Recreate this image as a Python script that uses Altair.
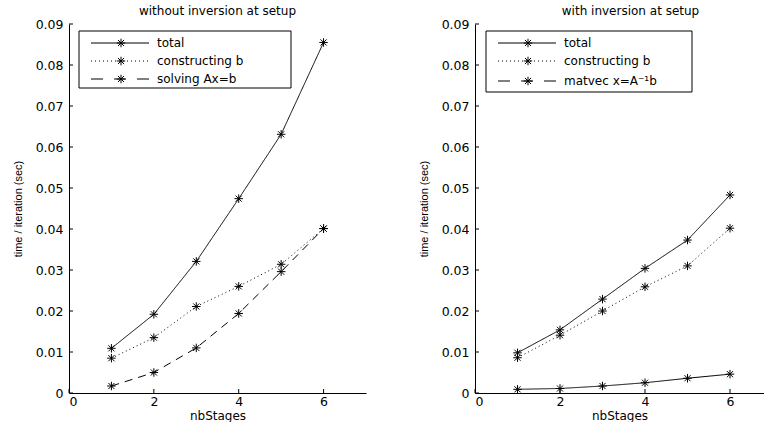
import altair as alt
import pandas as pd

stages = [1, 2, 3, 4, 5, 6]

left_title = "without inversion at setup"
left_labels = ["total", "constructing b", "solving Ax=b"]
left_total = [0.0109, 0.0192, 0.0321, 0.0474, 0.0631, 0.0855]
left_construct = [0.0085, 0.0135, 0.0211, 0.0260, 0.0314, 0.0401]
left_solve = [0.0017, 0.0050, 0.0110, 0.0194, 0.0296, 0.0401]

right_title = "with inversion at setup"
right_labels = ["total", "constructing b", "matvec x=A\u207b\u00b9b"]
right_total = [0.0098, 0.0154, 0.0229, 0.0304, 0.0373, 0.0483]
right_construct = [0.0086, 0.0141, 0.0200, 0.0259, 0.0310, 0.0402]
right_matvec = [0.0009, 0.0011, 0.0017, 0.0025, 0.0036, 0.0046]

y_ticks = [0.0, 0.01, 0.02, 0.03, 0.04, 0.05, 0.06, 0.07, 0.08, 0.09]
x_ticks = [0, 2, 4, 6]

x_title = "nbStages"
y_title = "time / iteration (sec)"

ASTERISK = "M-1,0L1,0M0,-1L0,1M-0.72,-0.72L0.72,0.72M-0.72,0.72L0.72,-0.72"
DASHES = [[1, 0], [1, 3], [8, 6]]
LEGEND_DASHES = [[1, 0], [1, 3], [12, 11]]
FONT = "DejaVu Sans"
H = 369


def panel(series, labels, title, xmax, width, legend_box, rows, title_dx):
    recs = []
    for lab, vals in zip(labels, series):
        for s, v in zip(stages, vals):
            recs.append({"stage": s, "time": v, "series": lab})
    df = pd.DataFrame(recs)

    xs = alt.Scale(domain=[0, xmax], nice=False, zero=False)
    ys = alt.Scale(domain=[0, 0.09], nice=False)
    x = alt.X("stage:Q", scale=xs,
              axis=alt.Axis(values=x_ticks, title=x_title, ticks=False, grid=False,
                            labelPadding=2, titlePadding=3, format="d"))
    y = alt.Y("time:Q", scale=ys,
              axis=alt.Axis(values=y_ticks, title=y_title, ticks=False, grid=False,
                            labelPadding=6, titlePadding=12,
                            labelExpr="datum.value == 0 ? '0' : format(datum.value, '.2f')"))

    lines = alt.Chart(df).mark_line(color="black", strokeWidth=1).encode(
        x=x, y=y, detail="series:N",
        strokeDash=alt.StrokeDash("series:N", scale=alt.Scale(domain=labels, range=DASHES), legend=None),
    )
    pts = alt.Chart(df).mark_point(shape=ASTERISK, size=72, filled=False, color="black",
                                   strokeWidth=1, opacity=1).encode(x=x, y=y)

    ytk = alt.Chart(pd.DataFrame({"time": y_ticks})).mark_rule(color="black", strokeWidth=1).encode(
        y=y, x=alt.value(0), x2=alt.value(4))
    xtk = alt.Chart(pd.DataFrame({"stage": x_ticks})).mark_rule(color="black", strokeWidth=1).encode(
        x=x, y=alt.value(H), y2=alt.value(H - 4))

    one = pd.DataFrame({"a": [0]})
    bx0, bx1, by0, by1 = legend_box
    layers = [lines, pts, ytk, xtk]
    layers.append(alt.Chart(one).mark_rect(fill="white", stroke="black", strokeWidth=1).encode(
        x=alt.value(bx0), x2=alt.value(bx1), y=alt.value(by0), y2=alt.value(by1)))
    for i, lab in enumerate(labels):
        ry = rows[i]
        layers.append(alt.Chart(one).mark_rule(color="black", strokeWidth=1,
                                                strokeDash=LEGEND_DASHES[i]).encode(
            x=alt.value(bx0 + 12), x2=alt.value(bx0 + 70), y=alt.value(ry)))
        layers.append(alt.Chart(one).mark_point(shape=ASTERISK, size=72, filled=False,
                                                 color="black", strokeWidth=1, opacity=1).encode(
            x=alt.value(bx0 + 42), y=alt.value(ry)))
        layers.append(alt.Chart(pd.DataFrame({"t": [lab]})).mark_text(
            align="left", baseline="middle", font=FONT, fontSize=12, color="black").encode(
            x=alt.value(bx0 + 78), y=alt.value(ry), text="t:N"))

    return alt.layer(*layers).properties(
        width=width, height=H,
        title=alt.TitleParams(title, font=FONT, fontSize=12, fontWeight="normal",
                              color="black", offset=0, dx=title_dx),
    )


left = panel([left_total, left_construct, left_solve], left_labels, left_title,
             7, 297, (10, 222, 7, 64), [19, 37, 55], 0)
right = panel([right_total, right_construct, right_matvec], right_labels, right_title,
              6.8, 289, (11, 217, 7, 68), [19, 37, 57], 11)

chart = alt.hconcat(left, right, spacing=109, bounds="flush").properties(
    padding={"left": 12, "top": 5, "right": 0, "bottom": 0}
).configure_view(stroke=None).configure_axis(
    domainColor="black", domainWidth=1,
    labelFont=FONT, labelFontSize=12.5, labelColor="black",
    titleFont="Liberation Sans", titleFontSize=11, titleFontWeight="normal", titleColor="black",
).configure_axisX(titleFont=FONT, titleFontSize=12)

chart.save("out.html", embed_options={"renderer": "svg", "actions": False})
